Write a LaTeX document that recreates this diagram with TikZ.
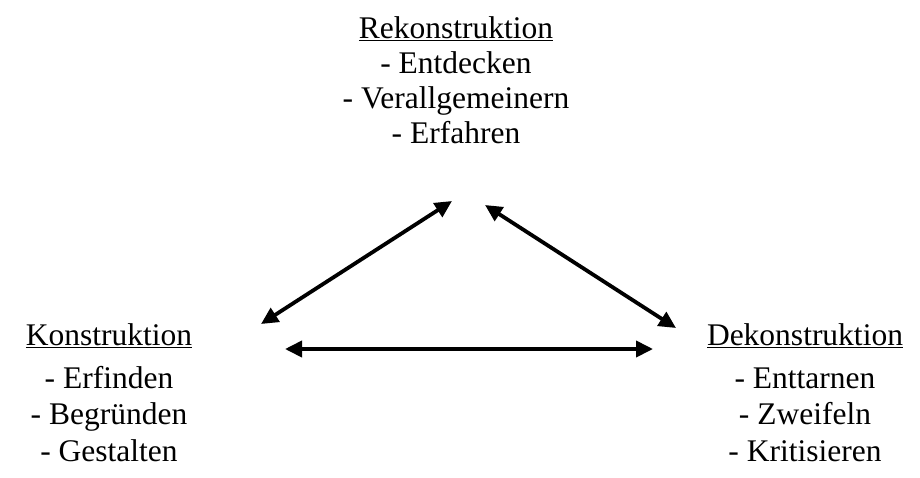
\documentclass[tikz,border=0pt]{standalone}
\usepackage{fontspec}
\setmainfont{Liberation Serif}
\usetikzlibrary{arrows.meta}
\tikzset{
  block/.style={align=center, inner sep=0pt, font=\fontsize{31.5}{35}\selectfont},
  link/.style={line width=3.8pt, {Triangle[length=17pt,width=16pt]}-{Triangle[length=17pt,width=16pt]}},
}
\begin{document}
\begin{tikzpicture}[x=1pt,y=-1pt]
\useasboundingbox (0,0) rectangle (920,477);
\node[block, anchor=north] (rek) at (456,16) {\underline{Rekonstruktion}\\- Entdecken\\- Verallgemeinern\\- Erfahren};
\node[block, anchor=north] (kon) at (109,323) {\underline{Konstruktion}\\[8pt]- Erfinden\\[1.5pt]- Begründen\\[1.5pt]- Gestalten};
\node[block, anchor=north] (dek) at (805,323) {\underline{Dekonstruktion}\\[8pt]- Enttarnen\\[1.5pt]- Zweifeln\\[1.5pt]- Kritisieren};
% arrow tips between the three blocks
\coordinate (rekL) at (452,201);
\coordinate (rekR) at (485,205);
\coordinate (konT) at (261,324);
\coordinate (konR) at (285,349);
\coordinate (dekT) at (676,328);
\coordinate (dekL) at (653,349);
\draw[link] (konT) -- (rekL);
\draw[link] (rekR) -- (dekT);
\draw[link] (konR) -- (dekL);
\end{tikzpicture}
\end{document}
